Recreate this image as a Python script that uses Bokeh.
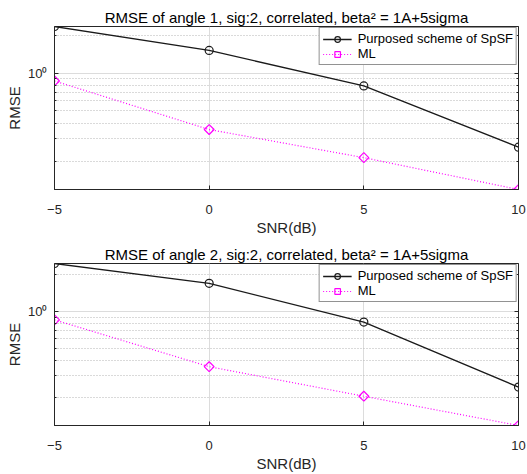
from bokeh.plotting import figure
from bokeh.models import Range1d, FixedTicker, LinearAxis, LogAxis
from bokeh.layouts import column
from bokeh.embed import file_html
from bokeh.resources import INLINE

# ---- data ----
snr = [-5, 0, 5, 10]
spsf_angle1 = [2.34, 1.51, 0.79, 0.258]
ml_angle1 = [0.865, 0.356, 0.213, 0.119]
spsf_angle2 = [2.47, 1.70, 0.82, 0.241]
ml_angle2 = [0.855, 0.354, 0.203, 0.117]
titles = ["RMSE of angle 1, sig:2, correlated, beta\u00b2 = 1A+5sigma",
          "RMSE of angle 2, sig:2, correlated, beta\u00b2 = 1A+5sigma"]
series_names = ["Purposed scheme of SpSF", "ML"]
x_ticks = [-5, 0, 5, 10]
y_major_ticks = [1]
y_minor_ticks = [0.1 * k for k in range(1, 10)] + [float(k) for k in range(2, 10)]
y_tick_labels = {1: "10\u2070"}
x_label = "SNR(dB)"
y_label = "RMSE"

FONT = "Liberation Sans"
AXIS_COLOR = "#262626"
SPSF_COLOR = "#1a1a1a"
ML_COLOR = "#ff00ff"


def style_ticks(ax):
    ax.axis_line_color = AXIS_COLOR
    ax.major_tick_line_color = AXIS_COLOR
    ax.minor_tick_line_color = AXIS_COLOR
    ax.major_tick_in = 4
    ax.major_tick_out = 0
    ax.minor_tick_in = 2
    ax.minor_tick_out = 0


def make_panel(title, spsf, ml, height, border_top, border_bottom):
    p = figure(width=527, height=height, y_axis_type="log",
               x_range=Range1d(min(snr), max(snr)),
               y_range=Range1d(min(ml), max(spsf)),
               output_backend="svg", toolbar_location=None,
               min_border_left=54, min_border_right=9,
               min_border_top=border_top, min_border_bottom=border_bottom)
    p.title.text = title
    p.title.text_font = FONT
    p.title.text_font_size = "15px"
    p.title.text_font_style = "normal"
    p.title.text_color = "#000000"
    p.title.align = "center"
    p.title.standoff = 1

    p.outline_line_color = AXIS_COLOR
    p.outline_line_width = 1
    p.outline_line_alpha = 1

    # axes
    p.xaxis.ticker = FixedTicker(ticks=x_ticks, minor_ticks=[])
    p.yaxis.ticker = FixedTicker(ticks=y_major_ticks, minor_ticks=y_minor_ticks)
    p.yaxis.major_label_overrides = y_tick_labels
    for ax in (p.xaxis[0], p.yaxis[0]):
        style_ticks(ax)
        ax.major_label_text_font = FONT
        ax.major_label_text_font_size = "13px"
        ax.major_label_text_color = "#262626"
        ax.axis_label_text_font = FONT
        ax.axis_label_text_font_size = "15px"
        ax.axis_label_text_font_style = "normal"
        ax.axis_label_text_color = "#262626"
    p.xaxis.axis_label = x_label
    p.yaxis.axis_label = y_label
    p.xaxis.major_label_standoff = 15
    p.xaxis.axis_label_standoff = 2
    p.yaxis.major_label_standoff = 7
    p.yaxis.axis_label_standoff = 2

    # box ticks on the right edge (no labels)
    right = LogAxis(ticker=FixedTicker(ticks=y_major_ticks, minor_ticks=y_minor_ticks),
                    major_label_overrides={1: ""}, major_label_standoff=0,
                    major_label_text_font_size="1px")
    style_ticks(right)
    p.add_layout(right, "right")

    # grids
    p.xgrid.grid_line_color = "#dcdcdc"
    p.ygrid.grid_line_color = "#dcdcdc"
    p.ygrid.minor_grid_line_color = "#b4b4b4"
    p.ygrid.minor_grid_line_dash = "1 2"

    # series
    p.line(snr, spsf, line_color=SPSF_COLOR, line_width=1.3, legend_label=series_names[0])
    p.scatter(snr, spsf, marker="circle", size=8, fill_color=None,
              line_color=SPSF_COLOR, line_width=1.2, legend_label=series_names[0])
    p.line(snr, ml, line_color=ML_COLOR, line_width=1.2, line_dash="1 2",
           legend_label=series_names[1])
    p.scatter(snr, ml, marker="square", angle=0.785398, size=7, fill_color=None,
              line_color=ML_COLOR, line_width=1.2, legend_label=series_names[1])

    lg = p.legend[0]
    lg.location = "top_right"
    lg.margin = 1
    lg.padding = 3
    lg.spacing = 0
    lg.label_height = 14
    lg.glyph_height = 14
    lg.glyph_width = 29
    lg.label_standoff = 6
    lg.label_text_font = FONT
    lg.label_text_font_size = "13px"
    lg.label_text_color = "#000000"
    lg.border_line_color = AXIS_COLOR
    lg.border_line_width = 1
    lg.background_fill_alpha = 1
    return p


p1 = make_panel(titles[0], spsf_angle1, ml_angle1, 238, 26, 49)
p2 = make_panel(titles[1], spsf_angle2, ml_angle2, 236, 25, 48)
layout = column(p1, p2, spacing=0)

open("out.html", "w").write(file_html(layout, INLINE))
